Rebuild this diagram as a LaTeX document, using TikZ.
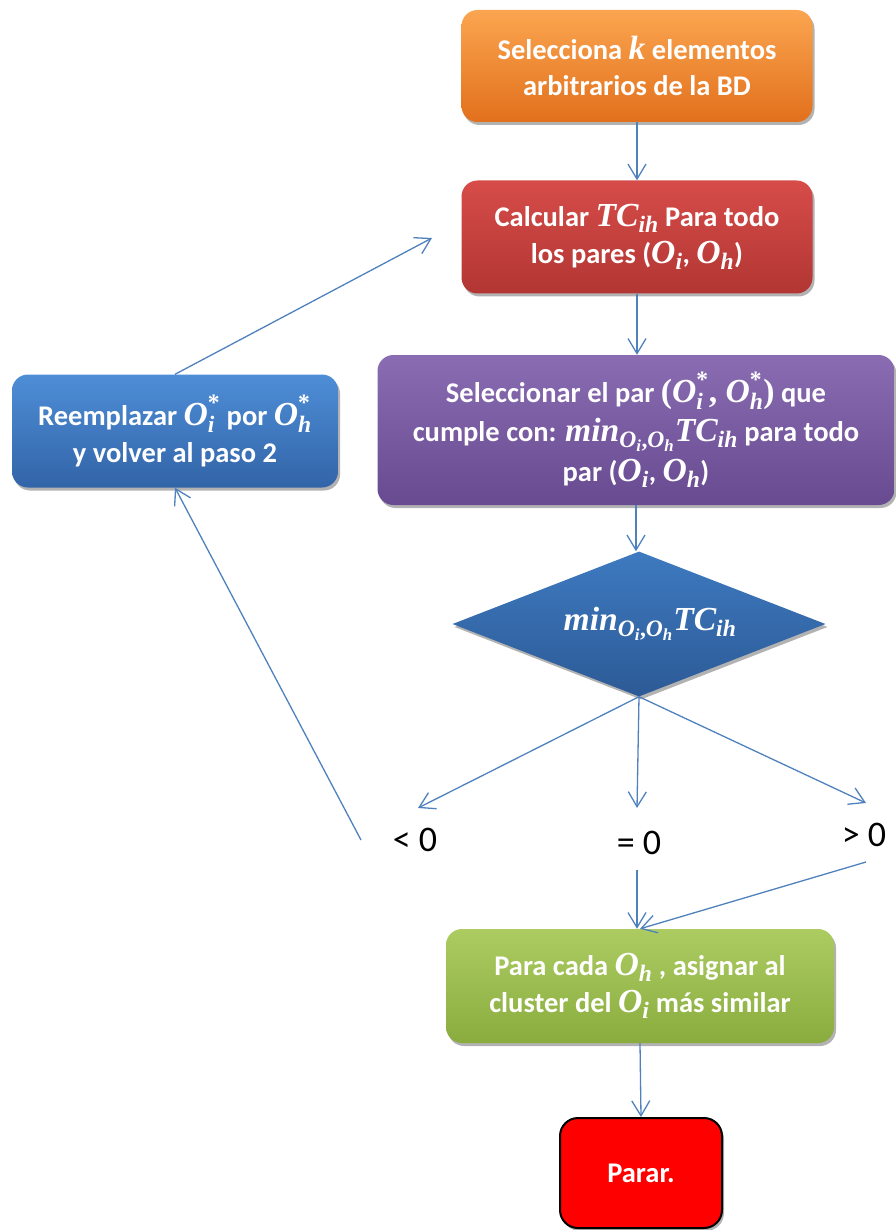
\RequirePackage{fix-cm}
\documentclass[tikz,border=0pt]{standalone}
\usepackage{fontspec}
\setmainfont{Carlito}
\newfontfamily\mathletters[Scale=1.18]{Liberation Serif}
\usepackage{amsmath}
\usetikzlibrary{shapes.geometric,arrows.meta,shadows}

% bold italic serif letters for the formulas
\newcommand\mlet[1]{\text{\mathletters\bfseries\itshape #1}}
\newcommand\mpunct[1]{\text{\mathletters\bfseries #1}}

\definecolor{orTop}{RGB}{251,165,80}
\definecolor{orBot}{RGB}{226,112,28}
\definecolor{rdTop}{RGB}{214,76,73}
\definecolor{rdBot}{RGB}{178,54,51}
\definecolor{puTop}{RGB}{138,108,178}
\definecolor{puBot}{RGB}{104,74,144}
\definecolor{blTop}{RGB}{78,142,214}
\definecolor{blBot}{RGB}{50,100,168}
\definecolor{diTop}{RGB}{62,122,192}
\definecolor{diBot}{RGB}{44,90,150}
\definecolor{grTop}{RGB}{172,204,98}
\definecolor{grBot}{RGB}{138,172,62}
\definecolor{lineblue}{RGB}{79,129,189}
\definecolor{stopred}{RGB}{255,0,0}

\tikzset{
  stepbox/.style={rectangle, rounded corners=16pt, draw=none, text=white,
    font=\bfseries\fontsize{28.5}{36}\selectfont, align=center, inner sep=0pt,
    drop shadow={shadow xshift=2pt, shadow yshift=-3pt, opacity=0.3, fill=black}},
  flow/.style={draw=lineblue, line width=1.3pt, -{Straight Barb[length=15pt,width=18pt]}},
  cond/.style={font=\fontsize{36}{40}\selectfont, text=black, inner sep=0pt}
}

\begin{document}
\begin{tikzpicture}[x=1pt,y=-1pt]
\useasboundingbox (0,0) rectangle (895,1230);

% process steps
\node[stepbox, top color=orTop, bottom color=orBot, minimum width=351pt, minimum height=112pt]
  (sel) at (637,66) {Selecciona $\mlet{k}$ elementos\\arbitrarios de la BD};
\node[stepbox, top color=rdTop, bottom color=rdBot, minimum width=351pt, minimum height=113pt]
  (calc) at (637,237) {Calcular $\mlet{TC}_{\mlet{ih}}$ Para todo\\[1pt]los pares ($\mlet{O}_{\mlet{i}}$, $\mlet{O}_{\mlet{h}}$)};
\node[stepbox, top color=puTop, bottom color=puBot, minimum width=517pt, minimum height=150pt]
  (pick) at (636,430) {Seleccionar el par $\mpunct{(}\mlet{O}_{\mlet{i}}^{\mpunct{*}}\mpunct{, }\mlet{O}_{\mlet{h}}^{\mpunct{*}}\mpunct{)}$ que\\[3pt]cumple con: $\mlet{min}_{\mlet{O}_{\mlet{i}}\mpunct{,}\mlet{O}_{\mlet{h}}}\mlet{TC}_{\mlet{ih}}$ para todo\\[4pt]par ($\mlet{O}_{\mlet{i}}$, $\mlet{O}_{\mlet{h}}$)};
\node[stepbox, top color=blTop, bottom color=blBot, minimum width=326pt, minimum height=113pt]
  (repl) at (175,431) {Reemplazar $\mlet{O}_{\mlet{i}}^{\mpunct{*}}$ por $\mlet{O}_{\mlet{h}}^{\mpunct{*}}$\\[1pt]y volver al paso 2};

% decision
\node[diamond, aspect=2.6, inner sep=0pt, minimum width=373pt, minimum height=145pt,
  top color=diTop, bottom color=diBot, text=white,
  font=\bfseries\fontsize{28.5}{35}\selectfont,
  drop shadow={shadow xshift=2pt, shadow yshift=-3pt, opacity=0.3, fill=black}]
  (dia) at (639,624) {\hspace*{22pt}$\mlet{min}_{\mlet{O}_{\mlet{i}}\mpunct{,}\mlet{O}_{\mlet{h}}}\mlet{TC}_{\mlet{ih}}$};

% outcomes
\node[cond] (lt) at (415,840) {< 0};
\node[cond] (eq) at (639,843) {= 0};
\node[cond] (gt) at (864,835) {> 0};

\node[stepbox, top color=grTop, bottom color=grBot, minimum width=388pt, minimum height=114pt]
  (assign) at (640,986) {Para cada $\mlet{O}_{\mlet{h}}$ , asignar al\\[1pt]cluster del $\mlet{O}_{\mlet{i}}$ más similar};
\node[stepbox, fill=stopred, draw=black, line width=2pt, rounded corners=18pt,
  minimum width=162pt, minimum height=110pt]
  (stop) at (641,1173) {Parar.};

% connector end points
\coordinate (ltTip) at (418,808);
\coordinate (eqTip) at (637,808);
\coordinate (gtTip) at (866,803);
\coordinate (ltTail) at (361,840);
\coordinate (eqTail) at (637,870);
\coordinate (gtTail) at (866,862);
\coordinate (loopEnd) at (432,238);

% connectors
\draw[flow] (sel.south) -- (calc.north);
\draw[flow] (calc.south) -- (calc.south |- pick.north);
\draw[flow] (pick.south) -- (pick.south |- dia.north);
\draw[flow] (dia.south) -- (ltTip);
\draw[flow] (dia.south) -- (eqTip);
\draw[flow] (dia.south) -- (gtTip);
\draw[flow] (ltTail) -- (repl.south);
\draw[flow] (repl.north) -- (loopEnd);
\draw[flow] (eqTail) -- (eqTail |- assign.north);
\draw[flow] (gtTail) -- (assign.north);
\draw[flow] (assign.south) -- (stop.north);
\end{tikzpicture}
\end{document}
